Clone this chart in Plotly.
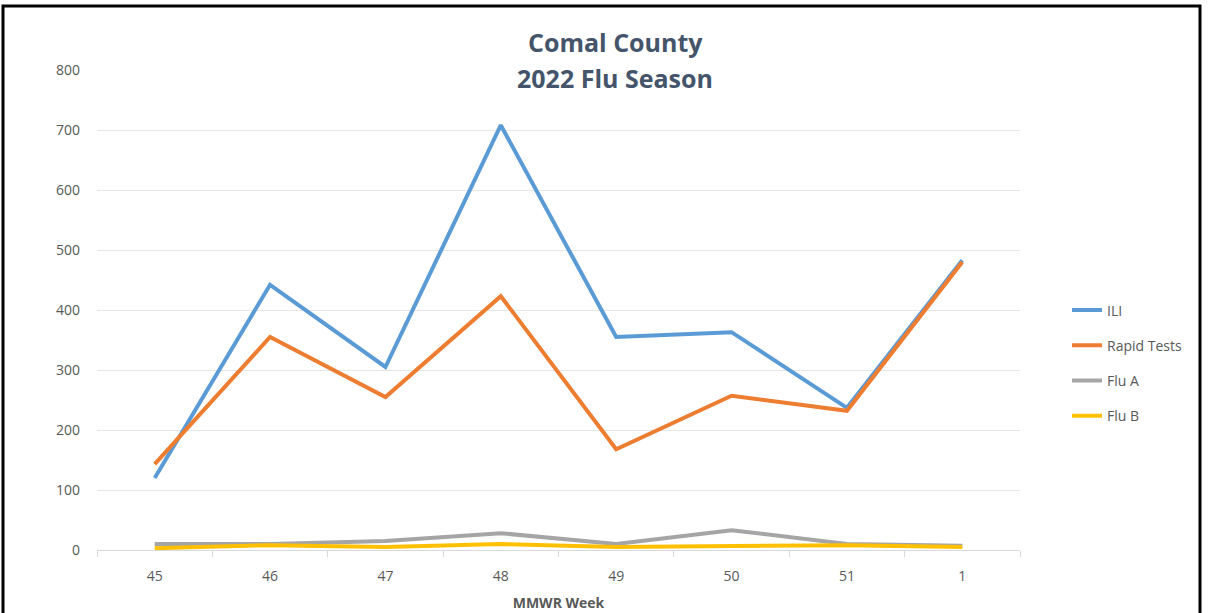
import plotly.graph_objects as go

weeks = ["45", "46", "47", "48", "49", "50", "51", "1"]
ili = [120, 442, 305, 708, 355, 363, 237, 483]
rapid = [143, 355, 255, 423, 168, 257, 232, 480]
flu_a = [10, 10, 15, 28, 10, 33, 10, 7]
flu_b = [3, 8, 5, 10, 5, 7, 8, 5]

series = [
    ("ILI", ili, "#5B9BD5"),
    ("Rapid Tests", rapid, "#ED7D31"),
    ("Flu A", flu_a, "#A5A5A5"),
    ("Flu B", flu_b, "#FFC000"),
]

W, H = 1212, 613
L, R, T, B = 97, 192, 70, 63
pw, ph = W - L - R, H - T - B

def px(x):
    return (x - L) / pw

def py(y):
    return (H - B - y) / ph

fig = go.Figure()
for i, (name, vals, col) in enumerate(series):
    fig.add_trace(go.Scatter(
        x=weeks, y=vals, name=name, mode="lines",
        line=dict(color=col, width=4),
        legendgroup=f"g{i}",
    ))

font_family = "Open Sans, Noto Sans, sans-serif"

fig.update_layout(
    width=W, height=H,
    margin=dict(l=L, r=R, t=T, b=B, autoexpand=False),
    paper_bgcolor="white", plot_bgcolor="white",
    font=dict(family=font_family, color="#595959", size=13),
    showlegend=True,
    legend=dict(
        x=px(1067), y=py(363), xanchor="left", yanchor="middle",
        traceorder="grouped", tracegroupgap=14,
        font=dict(size=14, color="#595959"),
        bgcolor="rgba(0,0,0,0)",
    ),
    xaxis=dict(
        type="category", showgrid=False, range=[-0.5, 7.5],
        showline=True, linecolor="#D9D9D9", linewidth=1,
        ticks="outside", tickson="boundaries", ticklen=6, tickcolor="#D9D9D9",
        tickfont=dict(size=14, color="#595959"),
        ticklabelstandoff=13,
        title=dict(text="<b>MMWR Week</b>", font=dict(size=14, color="#595959"), standoff=14),
        fixedrange=True,
    ),
    yaxis=dict(
        range=[0, 800], dtick=100, showgrid=True, gridcolor="#E6E6E6",
        zeroline=False, showline=False,
        tickfont=dict(size=14, color="#595959"),
        ticklabelstandoff=16,
        fixedrange=True,
    ),
    annotations=[
        dict(text="<b>Comal County</b>", x=px(615), y=py(42), xref="paper", yref="paper",
             showarrow=False, xanchor="center", yanchor="middle",
             font=dict(size=25, color="#44546A", family=font_family)),
        dict(text="<b>2022 Flu Season</b>", x=px(615), y=py(78), xref="paper", yref="paper",
             showarrow=False, xanchor="center", yanchor="middle",
             font=dict(size=25, color="#44546A", family=font_family)),
    ],
    shapes=[
        dict(type="rect", xref="paper", yref="paper",
             x0=px(3), x1=px(1200), y0=py(6), y1=py(640),
             line=dict(color="black", width=3), fillcolor="rgba(0,0,0,0)", layer="above"),
    ],
)

fig.write_html("out.html", config={"displayModeBar": False},
               post_script="document.body.style.margin='0';document.body.style.overflow='hidden';")
